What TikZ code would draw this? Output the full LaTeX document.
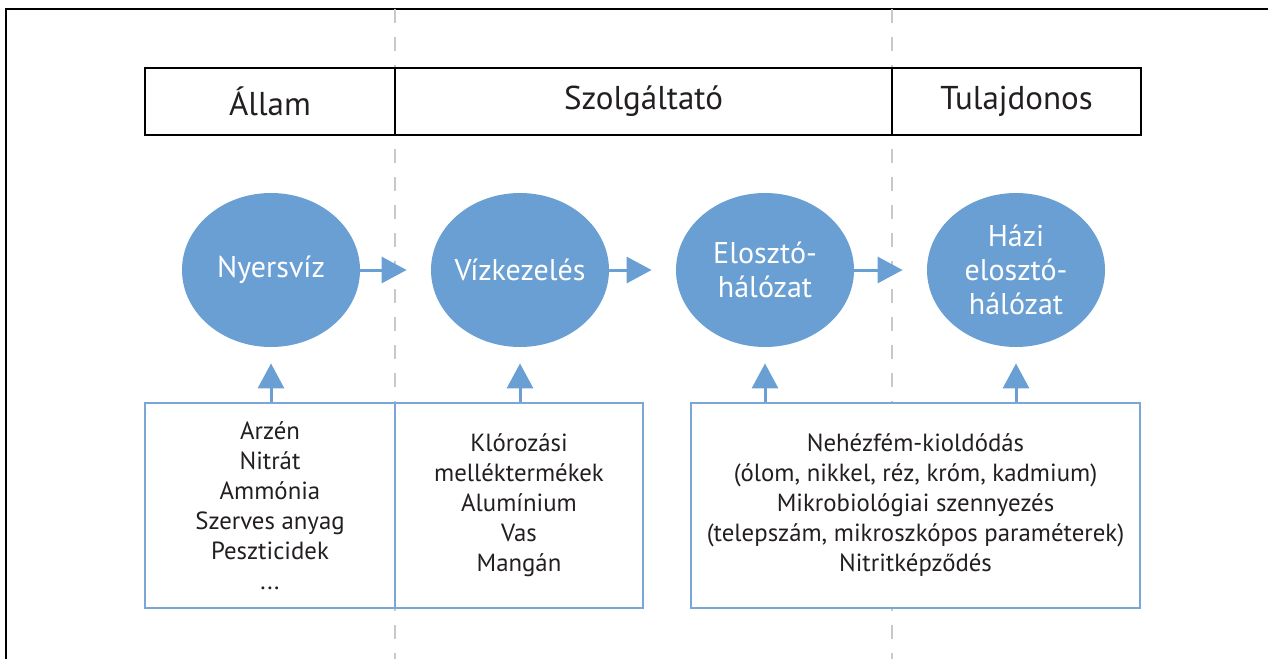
\documentclass[tikz,border=0pt]{standalone}
\usepackage{fontspec}
\setmainfont{PT Sans}
\usetikzlibrary{arrows.meta,shapes.geometric}
\definecolor{cblue}{RGB}{106,159,212}
\definecolor{bblue}{RGB}{122,167,214}
\definecolor{dgray}{RGB}{200,200,200}
\definecolor{txt}{RGB}{35,31,32}
\begin{document}
\begin{tikzpicture}[x=0.5pt,y=-0.5pt,
  hdr/.style={draw=black,line width=1pt,fill=white,minimum height=33.5pt,inner sep=0pt,font=\fontsize{16.5}{19}\selectfont,text=txt},
  stage/.style={ellipse,fill=cblue,minimum width=89pt,minimum height=77pt,inner sep=0pt},
  stagetext/.style={text=white,align=center,inner sep=0pt,font=\fontsize{15}{17}\selectfont},
  issue/.style={draw=bblue,line width=1pt,fill=white,minimum height=102.5pt,inner sep=0pt,align=center,text=txt,font=\fontsize{12.4}{15}\selectfont},
  flow/.style={draw=cblue,line width=1.5pt,-{Triangle[length=12.5pt,width=13pt]}},
  divider/.style={draw=dgray,line width=0.75pt,dash pattern=on 7pt off 7pt},
  frame/.style={draw=black,line width=1pt}]
\useasboundingbox (0,0) rectangle (1268,659);
% outer frame
\coordinate (ftr) at (1268,9);
\coordinate (ftl) at (6,9);
\coordinate (fbl) at (6,659);
\draw[frame] (ftr) -- (ftl) -- (fbl);
% dashed dividers
\coordinate (d1t) at (395,9); \coordinate (d1b) at (395,659);
\coordinate (d2t) at (892,9); \coordinate (d2b) at (892,659);
\draw[divider] (d1t) -- (d1b);
\draw[divider] (d2t) -- (d2b);
% header
\node[hdr,minimum width=125pt] (h1) at (270,101.5) {Állam};
\node[hdr,minimum width=248.5pt] (h2) at (643.5,101.5) {Szolgáltató};
\node[hdr,minimum width=124.5pt] (h3) at (1016.5,101.5) {Tulajdonos};
% stages
\node[stage] (n1) at (271,270) {};
\node[stage] (n2) at (520,270) {};
\node[stage] (n3) at (765,270) {};
\node[stage] (n4) at (1016,270) {};
\node[stagetext] (t1) at (n1) {Nyersvíz};
\node[stagetext] (t2) at (n2) {Vízkezelés};
\node[stagetext] (t3) at (n3) {Elosztó-\\hálózat};
\node[stagetext] (t4) at (n4) {Házi\\elosztó-\\hálózat};
% issue boxes
\node[issue,minimum width=125pt] (b1) at (270,505.5) {Arzén\\Nitrát\\Ammónia\\Szerves anyag\\Peszticidek\\...};
\node[issue,minimum width=124pt] (b2) at (519,505.5) {Klórozási\\melléktermékek\\Alumínium\\Vas\\Mangán};
\node[issue,minimum width=224.5pt] (b3) at (915.5,505.5) {Nehézfém-kioldódás\\(ólom, nikkel, réz, króm, kadmium)\\Mikrobiológiai szennyezés\\(telepszám, mikroszkópos paraméterek)\\Nitritképződés};
% flow arrows
\draw[flow,shorten >=12pt] (n1.east) -- (n2.west);
\draw[flow,shorten >=12pt] (n2.east) -- (n3.west);
\draw[flow,shorten >=12pt] (n3.east) -- (n4.west);
% up arrows
\draw[flow,shorten >=8pt] (b1.north -| n1) -- (n1.south);
\draw[flow,shorten >=8pt] (b2.north -| n2) -- (n2.south);
\draw[flow,shorten >=8pt] (b3.north -| n3) -- (n3.south);
\draw[flow,shorten >=8pt] (b3.north -| n4) -- (n4.south);
\end{tikzpicture}
\end{document}
